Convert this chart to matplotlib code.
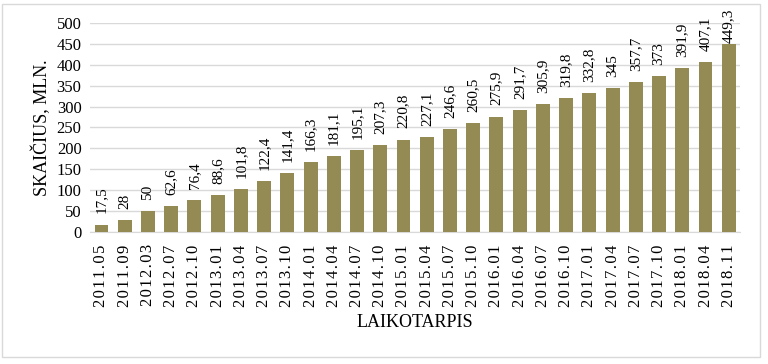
import matplotlib.pyplot as plt
from matplotlib.patches import Rectangle

periods = ["2011.05", "2011.09", "2012.03", "2012.07", "2012.10", "2013.01", "2013.04",
           "2013.07", "2013.10", "2014.01", "2014.04", "2014.07", "2014.10", "2015.01",
           "2015.04", "2015.07", "2015.10", "2016.01", "2016.04", "2016.07", "2016.10",
           "2017.01", "2017.04", "2017.07", "2017.10", "2018.01", "2018.04", "2018.11"]
values = [17.5, 28, 50, 62.6, 76.4, 88.6, 101.8, 122.4, 141.4, 166.3, 181.1, 195.1,
          207.3, 220.8, 227.1, 246.6, 260.5, 275.9, 291.7, 305.9, 319.8, 332.8, 345,
          357.7, 373, 391.9, 407.1, 449.3]
yticks = [0, 50, 100, 150, 200, 250, 300, 350, 400, 450, 500]

plt.rcParams['font.family'] = ['Liberation Serif', 'DejaVu Serif']

fig = plt.figure(figsize=(7.68, 3.64), dpi=100)
ax = fig.add_axes([0.117, 0.363, 0.847, 0.574])

x = list(range(len(values)))
ax.bar(x, values, width=0.6, color="#948a54", zorder=3)

# data labels, rotated; the top one is pushed down so it stays inside the frame
for xi, v in zip(x, values):
    lbl = f"{v:g}".replace(".", ",")
    off = 1 if v > 440 else 8
    ax.annotate(lbl, (xi, v), xytext=(0, off), textcoords="offset points",
                rotation=90, ha="center", va="bottom", fontsize=11,
                annotation_clip=False)

ax.set_xlim(-0.5, len(values) - 0.5)
ax.set_ylim(0, 500)
ax.set_yticks(yticks)
ax.tick_params(axis="y", labelsize=12, length=0, pad=6)
ax.set_xticks(x)
# letter spaced tick labels like the Word chart
spaced = ["\u200a".join(p) for p in periods]
ax.set_xticklabels(spaced, rotation=90, fontsize=12)
ax.tick_params(axis="x", length=0, pad=9)

ax.yaxis.grid(True, color="#d9d9d9", linewidth=1, zorder=0)
for s in ["top", "right", "left"]:
    ax.spines[s].set_visible(False)
ax.spines["bottom"].set_color("#d9d9d9")

ax.set_ylabel("SKAIČIUS, MLN.", fontsize=13, labelpad=4)
ax.set_xlabel("LAIKOTARPIS", fontsize=13, labelpad=5)

fig.patches.append(Rectangle((0.003, 0.02), 0.986, 0.97, transform=fig.transFigure,
                             fill=False, edgecolor="#d9d9d9", linewidth=1))

fig.savefig("out.png", dpi=100)
